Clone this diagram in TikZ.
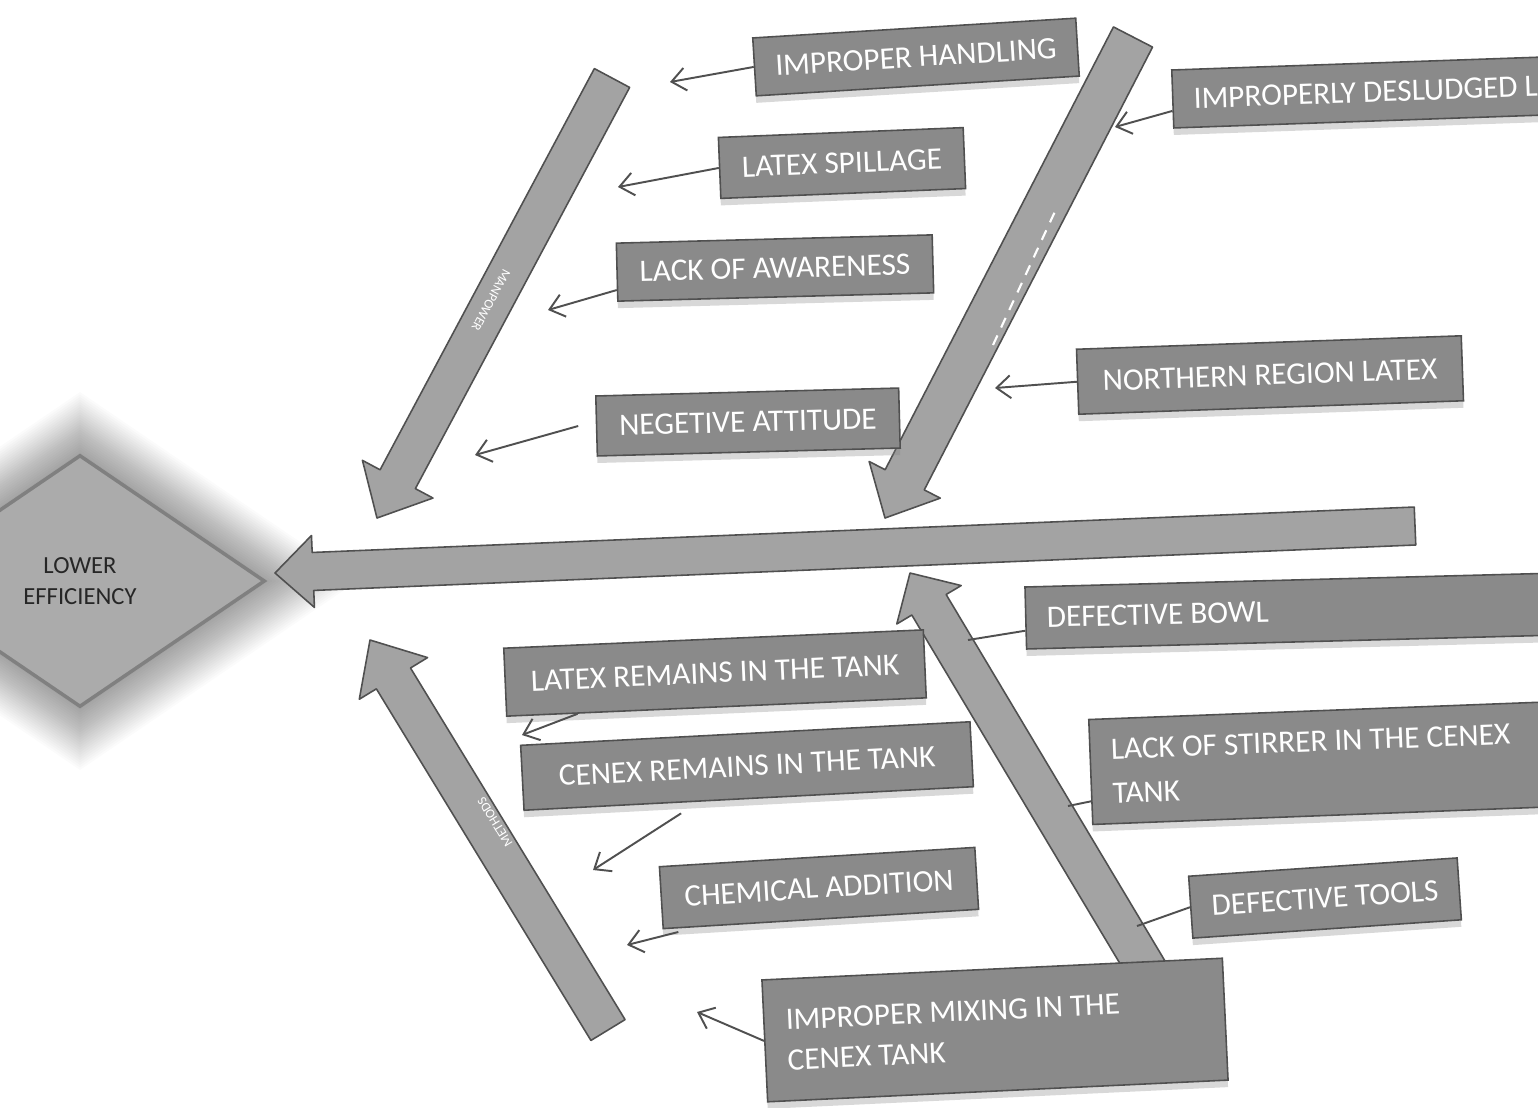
\documentclass[tikz,border=0pt]{standalone}
\usepackage{fontspec}
\setmainfont{Carlito}
\usetikzlibrary{calc,shapes.geometric,arrows.meta,shadows}
\definecolor{boxgray}{HTML}{8A8A8A}
\definecolor{bonegray}{HTML}{A3A3A3}
\definecolor{edgegray}{HTML}{505050}
\newcommand{\causefont}{\fontsize{17.8}{25}\selectfont}
% fat arrow: tail, tip, shaft half width, head half width, head length
\newcommand{\fatarrow}[5]{%
  \coordinate (hb) at ($(#2)!#5!(#1)$);
  \draw[bone] ($(#1)!#3!90:(#2)$) -- ($(hb)!#3!90:(#2)$) -- ($(hb)!#4!90:(#2)$)
    -- (#2) -- ($(hb)!#4!-90:(#2)$) -- ($(hb)!#3!-90:(#2)$) -- ($(#1)!#3!-90:(#2)$) -- cycle;}
\tikzset{
  cause/.style={draw=edgegray, line width=0.9pt, fill=boxgray, text=white, font=\causefont,
    inner xsep=0.42cm, drop shadow={shadow xshift=0pt, shadow yshift=-4pt, opacity=0.3}},
  effect/.style={diamond, draw=black!50, line width=2pt, fill=black!33, minimum width=7.4cm,
    minimum height=5.04cm, align=center, inner sep=0pt, text=black!85,
    font=\fontsize{14}{18}\selectfont},
  bone/.style={draw=edgegray, line width=0.9pt, fill=bonegray, line join=round},
  bonetext/.style={text=white, font=\fontsize{7.5}{9}\selectfont, inner sep=0pt},
  link/.style={draw=edgegray, line width=1.1pt, -{Straight Barb[length=8pt,width=13pt]}},
  tie/.style={draw=edgegray, line width=1.1pt},
}
\begin{document}
\begin{tikzpicture}[x=0.02cm, y=-0.02cm]
\useasboundingbox (0,0) rectangle (1538,1107);
\clip (0,0) rectangle (1538,1107);
\fill[white] (0,0) rectangle (1538,1107);

% effect with its halo
\foreach \s in {1.02,1.04,...,1.5}
  \fill[black, opacity=0.014, shift={(80,581)}, scale=\s] (-185,0) -- (0,-126) -- (185,0) -- (0,126) -- cycle;
\node[effect] (LE) at (80,581) {LOWER\\EFFICIENCY};

% spine and bones
\coordinate (SPt) at (1415,526);
\coordinate (SPh) at (275,573);
\coordinate (MPt) at (612,78);
\coordinate (MPh) at (377,518);
\coordinate (MAt) at (1133,37);
\coordinate (MAh) at (885,518);
\coordinate (MEt) at (608,1030);
\coordinate (MEh) at (370,640);
\coordinate (MCt) at (1168,1005);
\coordinate (MCh) at (910,573);
\fatarrow{SPt}{SPh}{0.38cm}{0.72cm}{0.76cm}
\fatarrow{MPt}{MPh}{0.4cm}{0.8cm}{0.88cm}
\fatarrow{MAt}{MAh}{0.44cm}{0.8cm}{0.86cm}
\fatarrow{MEt}{MEh}{0.4cm}{0.8cm}{0.9cm}
\fatarrow{MCt}{MCh}{0.4cm}{0.75cm}{0.74cm}
\draw[white, line width=1.2pt, dash pattern=on 6pt off 5pt] (993,345) -- (1058,205);
\node[bonetext, rotate=241.7] (MPl) at (491,300) {MANPOWER};
\node[bonetext, rotate=121.6] (MEl) at (495,822) {METHODS};

% causes
\node[cause, rotate=3.5, minimum width=6.4cm, minimum height=1.16cm] (IH) at (916,57) {IMPROPER HANDLING};
\node[cause, rotate=2, anchor=west, minimum height=1.16cm, text width=9cm, align=flush left] (ID) at (1172,99) {IMPROPERLY DESLUDGED LATEX};
\node[cause, rotate=2.3, minimum width=4.9cm, minimum height=1.22cm] (LS) at (842,163) {LATEX SPILLAGE};
\node[cause, rotate=1.5, minimum width=6.32cm, minimum height=1.16cm] (LA) at (775,268) {LACK OF AWARENESS};
\node[cause, rotate=1.5, minimum width=6.06cm, minimum height=1.2cm] (NA) at (748,422) {NEGETIVE ATTITUDE};
\node[cause, rotate=2, minimum width=7.7cm, minimum height=1.3cm] (NR) at (1270,375) {NORTHERN REGION LATEX};
\node[cause, rotate=1.5, anchor=west, minimum height=1.24cm, text width=12cm, align=flush left] (DB) at (1025,618) {DEFECTIVE BOWL};
\node[cause, rotate=2.5, minimum width=8.4cm, minimum height=1.36cm] (LR) at (715,673) {LATEX REMAINS IN THE TANK};
\node[cause, rotate=3, minimum width=9cm, minimum height=1.3cm] (CR) at (747,766) {CENEX REMAINS IN THE TANK};
\node[cause, rotate=3.5, minimum width=6.32cm, minimum height=1.24cm] (CA) at (819,888) {CHEMICAL ADDITION};
\node[cause, rotate=2.2, anchor=west, minimum height=2.1cm, text width=10cm, align=flush left] (LST) at (1090,772) {LACK OF STIRRER IN THE CENEX\\TANK};
\node[cause, rotate=3.9, minimum width=5.28cm, minimum height=1.24cm] (DT) at (1325,898) {DEFECTIVE TOOLS};
\node[cause, rotate=2.7, minimum width=9.22cm, minimum height=2.44cm, text width=8.34cm, align=flush left,
  font=\fontsize{17.8}{23}\selectfont] (IM) at (995,1030) {IMPROPER MIXING IN THE\\CENEX TANK};

% connectors to the bones
\coordinate (IHe) at (670,82);
\coordinate (IDe) at (1115,127);
\coordinate (LSe) at (618,187);
\coordinate (LAe) at (548,310);
\coordinate (NAe) at (475,455);
\coordinate (NRe) at (995,388);
\coordinate (DBe) at (968,640);
\coordinate (LRe) at (522,735);
\coordinate (CRe) at (593,870);
\coordinate (CAe) at (627,945);
\coordinate (LSTe) at (1068,806);
\coordinate (DTe) at (1137,926);
\coordinate (IMe) at (697,1012);
\draw[link] (IH.west) -- (IHe);
\draw[link] ($(ID.west)!0.4!(ID.south west)$) -- (IDe);
\draw[link] (LS.west) -- (LSe);
\draw[link] ($(LA.west)!0.6!(LA.south west)$) -- (LAe);
\draw[link] ([xshift=-10pt]NA.west) -- (NAe);
\draw[link] (NR.west) -- (NRe);
\draw[tie] ($(DB.west)!0.4!(DB.south west)$) -- (DBe);
\draw[link] ($(LR.south west)!0.17!(LR.south east)$) -- (LRe);
\draw[link] ([yshift=-6pt]$(CR.south west)!0.35!(CR.south east)$) -- (CRe);
\draw[link] ([yshift=-2pt]$(CA.south west)!0.05!(CA.south east)$) -- (CAe);
\draw[tie] ($(LST.west)!0.55!(LST.south west)$) -- (LSTe);
\draw[tie] (DT.west) -- (DTe);
\draw[link] (IM.west) -- (IMe);
\end{tikzpicture}
\end{document}
